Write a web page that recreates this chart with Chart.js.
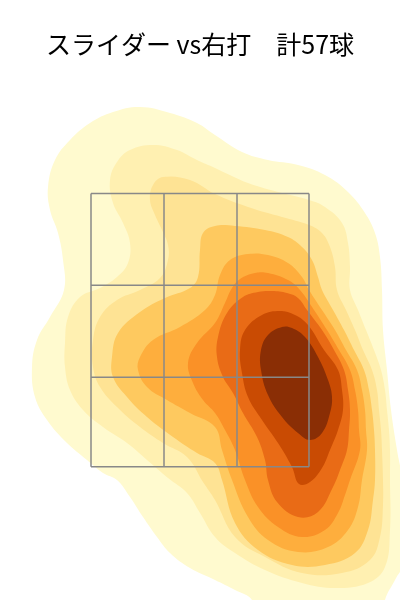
<!DOCTYPE html>
<html><head><meta charset="utf-8">
<script src="https://cdn.jsdelivr.net/npm/chart.js@4.4.1/dist/chart.umd.min.js"></script>
<style>html,body{margin:0;padding:0;background:#fff}#wrap{width:400px;height:600px;position:relative}</style>
</head><body><div id="wrap"><canvas id="c"></canvas></div>
<script>
// Title
const titleText = 'スライダー vs右打　計57球';

// Contour level colours (outer -> inner)
const levelColors = ['#fffacf','#fff0b1','#fee394','#fec95f','#feae3d','#fa9127','#e96b16','#c94b03','#8a2e05'];

// Contour rings (location x, location height), outer -> inner
const level1 = [[-0.60,4.93],[-0.30,4.87],[-0.03,4.77],[0.15,4.65],[0.42,4.48],[0.68,4.40],[0.98,4.35],[1.25,4.25],[1.48,4.08],[1.65,3.87],[1.75,3.67],[1.80,3.43],[1.82,3.10],[1.83,2.70],[1.87,2.30],[1.91,1.90],[1.97,1.50],[2.02,1.20],[2.05,0.40],[1.95,0.20],[1.85,0.00],[1.85,-0.15],[0.52,-0.15],[0.52,0.00],[0.35,0.10],[0.15,0.20],[-0.10,0.32],[-0.30,0.47],[-0.43,0.63],[-0.57,0.83],[-0.70,1.03],[-0.83,1.20],[-0.97,1.27],[-1.13,1.40],[-1.33,1.57],[-1.53,1.80],[-1.65,2.03],[-1.68,2.33],[-1.63,2.60],[-1.50,2.83],[-1.36,3.10],[-1.37,3.40],[-1.42,3.67],[-1.50,3.90],[-1.52,4.13],[-1.45,4.40],[-1.30,4.60],[-1.10,4.77],[-0.87,4.88]];
const level2 = [[-0.47,4.55],[-0.23,4.50],[-0.03,4.40],[0.15,4.32],[0.48,4.17],[0.82,4.07],[1.09,4.00],[1.25,3.93],[1.42,3.77],[1.48,3.57],[1.50,3.33],[1.50,3.10],[1.58,2.90],[1.66,2.70],[1.74,2.50],[1.81,2.30],[1.85,2.10],[1.87,1.90],[1.89,1.70],[1.90,1.50],[1.90,1.20],[1.90,0.70],[1.85,0.33],[1.68,0.17],[1.35,0.12],[1.02,0.17],[0.65,0.30],[0.35,0.47],[0.15,0.63],[0.00,0.87],[-0.13,1.07],[-0.32,1.22],[-0.53,1.40],[-0.73,1.57],[-0.97,1.73],[-1.17,1.90],[-1.30,2.10],[-1.35,2.33],[-1.35,2.57],[-1.32,2.83],[-1.20,3.03],[-1.00,3.12],[-0.83,3.23],[-0.72,3.37],[-0.70,3.57],[-0.77,3.77],[-0.87,3.97],[-0.90,4.20],[-0.83,4.38],[-0.70,4.50]];
const level3 = [[-0.37,4.23],[-0.10,4.20],[0.15,4.06],[0.48,3.93],[0.82,3.83],[1.09,3.75],[1.22,3.67],[1.30,3.53],[1.35,3.33],[1.37,3.10],[1.46,2.90],[1.55,2.70],[1.63,2.50],[1.72,2.30],[1.77,2.10],[1.79,1.90],[1.81,1.70],[1.82,1.50],[1.83,1.20],[1.83,0.95],[1.80,0.63],[1.70,0.40],[1.42,0.27],[1.02,0.27],[0.65,0.43],[0.35,0.63],[0.15,1.00],[0.03,1.18],[-0.13,1.43],[-0.37,1.57],[-0.60,1.73],[-0.83,1.93],[-1.00,2.13],[-1.07,2.33],[-1.07,2.60],[-1.00,2.83],[-0.83,3.00],[-0.60,3.10],[-0.40,3.22],[-0.32,3.40],[-0.32,3.55],[-0.38,3.70],[-0.45,3.85],[-0.50,4.00],[-0.47,4.15]];
const level4 = [[0.15,3.74],[0.35,3.74],[0.65,3.70],[0.88,3.63],[1.02,3.53],[1.12,3.40],[1.18,3.23],[1.22,3.10],[1.33,2.90],[1.44,2.70],[1.54,2.50],[1.64,2.30],[1.69,2.10],[1.72,1.90],[1.74,1.70],[1.75,1.50],[1.75,1.20],[1.73,1.00],[1.68,0.70],[1.55,0.47],[1.25,0.35],[0.92,0.35],[0.58,0.50],[0.35,0.77],[0.22,1.20],[0.15,1.37],[-0.03,1.47],[-0.27,1.63],[-0.53,1.83],[-0.73,2.03],[-0.87,2.23],[-0.88,2.43],[-0.82,2.67],[-0.60,2.88],[-0.35,3.02],[-0.10,3.12],[-0.02,3.23],[0.00,3.50],[0.03,3.67]];
const level5 = [[0.48,3.46],[0.68,3.45],[0.88,3.37],[1.02,3.23],[1.09,3.10],[1.22,2.90],[1.35,2.70],[1.46,2.50],[1.57,2.30],[1.62,2.10],[1.65,1.90],[1.66,1.70],[1.67,1.50],[1.62,1.20],[1.58,0.93],[1.48,0.70],[1.28,0.53],[0.98,0.48],[0.68,0.60],[0.48,0.83],[0.32,1.20],[0.22,1.50],[0.15,1.73],[-0.10,1.87],[-0.33,2.00],[-0.53,2.13],[-0.62,2.30],[-0.60,2.43],[-0.47,2.60],[-0.20,2.73],[0.05,2.90],[0.15,3.05],[0.20,3.25],[0.30,3.40]];
const level6 = [[0.55,3.27],[0.68,3.27],[0.88,3.20],[1.00,3.10],[1.14,2.90],[1.27,2.70],[1.39,2.50],[1.50,2.30],[1.55,2.10],[1.58,1.90],[1.59,1.70],[1.60,1.50],[1.50,1.20],[1.45,1.05],[1.38,0.87],[1.25,0.70],[1.02,0.63],[0.78,0.73],[0.58,0.93],[0.45,1.20],[0.35,1.50],[0.25,1.70],[0.15,1.87],[0.03,2.00],[-0.07,2.17],[-0.12,2.37],[-0.03,2.57],[0.15,2.77],[0.25,2.97],[0.32,3.12],[0.40,3.21]];
const level7 = [[0.58,3.08],[0.72,3.09],[0.87,3.07],[0.98,3.02],[1.07,2.90],[1.22,2.70],[1.34,2.50],[1.44,2.30],[1.48,2.10],[1.50,1.90],[1.49,1.70],[1.47,1.50],[1.40,1.30],[1.33,1.13],[1.18,0.88],[0.98,0.83],[0.77,0.98],[0.68,1.20],[0.65,1.40],[0.57,1.63],[0.43,1.87],[0.33,2.07],[0.23,2.23],[0.17,2.43],[0.18,2.63],[0.27,2.87],[0.43,3.03]];
const level8 = [[0.80,2.89],[0.95,2.85],[1.08,2.75],[1.24,2.50],[1.38,2.30],[1.42,2.10],[1.43,1.90],[1.38,1.70],[1.30,1.50],[1.22,1.32],[1.10,1.18],[0.99,1.16],[0.92,1.33],[0.78,1.57],[0.62,1.80],[0.48,2.03],[0.42,2.27],[0.40,2.50],[0.45,2.70],[0.62,2.85]];
const level9 = [[0.82,2.73],[0.92,2.72],[1.05,2.63],[1.18,2.43],[1.28,2.20],[1.32,2.03],[1.30,1.87],[1.22,1.67],[1.10,1.60],[0.98,1.67],[0.82,1.83],[0.68,2.05],[0.61,2.30],[0.61,2.50],[0.68,2.65]];

// Strike zone grid lines
const zoneX = [-1.09, -0.36, 0.37, 1.09];
const zoneY = [1.333, 2.227, 3.147, 4.065];

const levels = [level1, level2, level3, level4, level5, level6, level7, level8, level9];
const datasets = [];
levels.forEach((ring, i) => {
  const n = ring.length;
  // wrap the ring so the closing joint is smooth too
  const seq = [ring[n - 1], ...ring, ring[0], ring[1]];
  datasets.push({
    data: seq.map(([x, y]) => ({x, y})), showLine: true, fill: 'shape',
    backgroundColor: levelColors[i], borderColor: 'rgba(0,0,0,0)', borderWidth: 0,
    pointRadius: 0, tension: 0.4, order: 20 - i
  });
});
zoneX.forEach(x => datasets.push({
  data: [{x, y: zoneY[0]}, {x, y: zoneY[zoneY.length - 1]}], showLine: true, fill: false,
  borderColor: '#888888', borderWidth: 1.5, pointRadius: 0, order: 0
}));
zoneY.forEach(y => datasets.push({
  data: [{x: zoneX[0], y}, {x: zoneX[zoneX.length - 1], y}], showLine: true, fill: false,
  borderColor: '#888888', borderWidth: 1.5, pointRadius: 0, order: 0
}));

new Chart(document.getElementById('c'), {
  type: 'scatter',
  data: {datasets},
  options: {
    responsive: true, maintainAspectRatio: false, animation: false, events: [],
    layout: {padding: 0},
    plugins: {
      legend: {display: false}, tooltip: {enabled: false},
      title: {display: true, text: titleText, color: '#000',
        font: {family: "'Noto Sans CJK JP', sans-serif", size: 25, weight: 'normal'},
        padding: {top: 29, bottom: 18.8}}
    },
    scales: {
      x: {type: 'linear', min: -2, max: 2, display: false},
      y: {type: 'linear', min: 0, max: 5.222, display: false}
    }
  }
});
</script></body></html>
